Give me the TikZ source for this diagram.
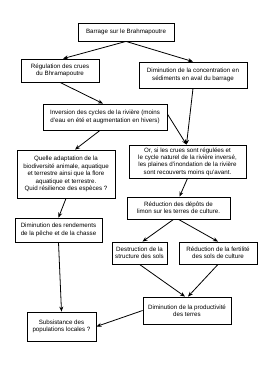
\documentclass[tikz,border=0pt]{standalone}
\usepackage{fontspec}
\setmainfont{Liberation Sans}
\usetikzlibrary{arrows.meta}
\begin{document}
\begin{tikzpicture}[x=1pt,y=-1pt,
  box/.style={draw=black,line width=0.8pt,fill=white,align=center,inner sep=0pt,
    font=\fontsize{6.2}{7.4}\selectfont},
  arr/.style={line width=0.8pt,-{Stealth[length=5pt,width=4pt]}}]
\useasboundingbox[fill=white] (0,0) rectangle (260,368);
\node[box,minimum width=96pt,minimum height=18pt] (n1) at (126,32) {Barrage sur le Brahmapoutre};
\node[box,minimum width=78pt,minimum height=23pt] (n2) at (60,70.5) {Régulation des crues\\du Bhramapoutre};
\node[box,minimum width=108pt,minimum height=26pt] (n3) at (193,75) {Diminution de la concentration en\\sédiments en aval du barrage};
\node[box,minimum width=124pt,minimum height=26pt] (n4) at (105,117) {Inversion des cycles de la rivière (moins\\d'eau en été et augmentation en hivers)};
\node[box,minimum width=117pt,minimum height=33pt] (n5) at (187.5,161.5) {Or, si les crues sont régulées et\\le cycle naturel de la rivière inversé,\\les plaines d'inondation de la rivière\\sont recouverts moins qu'avant.};
\node[box,minimum width=98pt,minimum height=48pt] (n6) at (66,174) {Quelle adaptation de la\\biodiversité animale, aquatique\\et terrestre ainsi que la flore\\aquatique et terrestre.\\Quid résilience des espèces ?};
\node[box,minimum width=103pt,minimum height=22pt] (n7) at (178.5,208) {Réduction des dépôts de\\limon sur les terres de culture.};
\node[box,minimum width=87pt,minimum height=24pt] (n8) at (58.5,230) {Diminution des rendements\\de la pêche et de la chasse};
\node[box,minimum width=55pt,minimum height=22pt] (n9) at (139.5,253) {Destruction de la\\structure des sols};
\node[box,minimum width=78pt,minimum height=22pt] (n10) at (218,253) {Réduction de la fertilité\\des sols de culture};
\node[box,minimum width=88pt,minimum height=27pt] (n11) at (187,310.5) {Diminution de la productivité\\des terres};
\node[box,minimum width=69pt,minimum height=29pt] (n12) at (61.5,326.5) {Subsistance des\\populations locales ?};
\draw[arr] (n1.south) -- ([xshift=3pt]n2.north);
\draw[arr] (n1.south) -- (n3.north);
\draw[arr] (n2.south) -- ([xshift=-2pt]n4.north);
\draw[arr] (n3.south) -- ([xshift=-1pt]n5.north);
\draw[arr] ([yshift=3pt]n4.east) -- ([xshift=-1pt]n5.north);
\draw[arr] ([xshift=-5pt]n4.south) -- ([xshift=9pt]n6.north);
\draw[arr] (n5.south) -- ([xshift=1pt]n7.north);
\draw[arr] (n6.south) -- (n8.north);
\draw[arr] ([xshift=-5pt]n7.south) -- ([xshift=3pt]n9.north);
\draw[arr] (n7.south) -- (n10.north);
\draw[arr] (n9.south) -- ([xshift=-2pt]n11.north);
\draw[arr] (n10.south) -- ([xshift=1pt]n11.north);
\draw[arr] (n8.south) -- (n12.north);
\draw[arr] (n11.west) -- (n12.east);
\end{tikzpicture}
\end{document}
